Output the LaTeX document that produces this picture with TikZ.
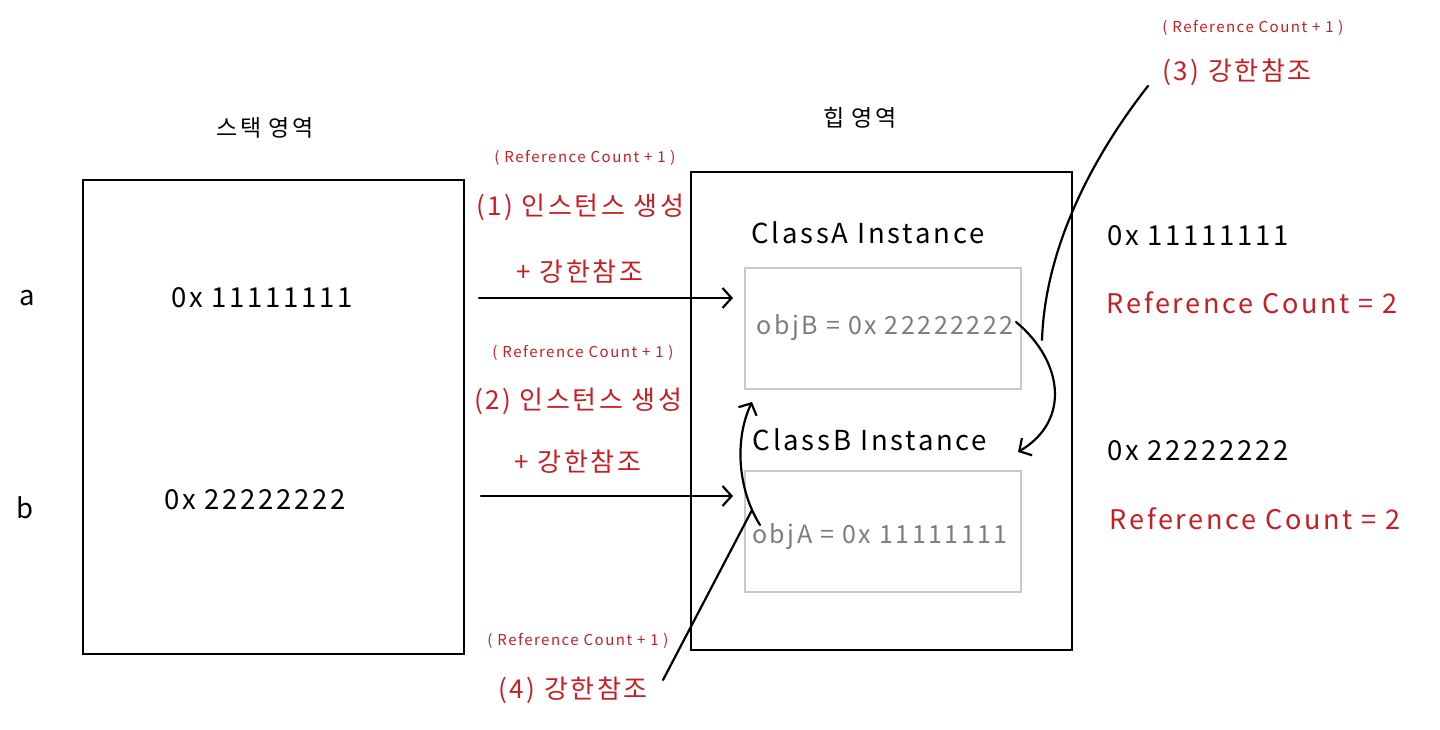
\documentclass[tikz,border=0pt]{standalone}
\usepackage{fontspec}
\setmainfont{Noto Sans CJK KR}[LetterSpace=10]
\usetikzlibrary{arrows.meta}
\definecolor{refred}{RGB}{200,30,35}
\definecolor{objgray}{RGB}{125,125,125}
\definecolor{boxgray}{RGB}{200,200,200}
\tikzset{
  bigbox/.style={draw=black, line width=2.2pt, minimum width=381pt, inner sep=0pt},
  objbox/.style={draw=boxgray, line width=2pt, minimum width=276pt, minimum height=121pt, inner sep=0pt},
  txt/.style={font=\fontsize{26}{30}\selectfont, inner sep=0pt, anchor=center},
  latin/.style={txt, font=\fontsize{27.5}{32}\selectfont},
  redtxt/.style={txt, text=refred},
  rctxt/.style={txt, text=refred, font=\fontsize{27}{32}\selectfont},
  small/.style={font=\fontsize{15}{18}\selectfont, text=refred, inner sep=0pt},
  graytxt/.style={txt, text=objgray, font=\fontsize{25}{30}\selectfont},
  conn/.style={line width=2.2pt, line cap=round},
  arr/.style={conn, -{Straight Barb[length=9pt,width=20pt,line width=2.2pt]}},
}
\begin{document}
\begin{tikzpicture}[x=1pt,y=-1pt]
\useasboundingbox (0,0) rectangle (1440,730);
\fill[white] (0,0) rectangle (1440,730);

% titles
\node[txt, font=\fontsize{23}{28}\selectfont] (stitle) at (265,128) {스택 영역};
\node[txt, font=\fontsize{23}{28}\selectfont] (htitle) at (860,118) {힙 영역};

% big boxes
\node[bigbox, minimum height=474pt] (stack) at (273.5,417) {};
\node[bigbox, minimum height=478pt] (heap) at (881.5,411) {};

% variable labels
\node[latin] (a) at (27,298) {a};
\node[latin] (b) at (25,508) {b};
\node[latin] (sa) at (262,298) {0x 11111111};
\node[latin] (sb) at (255,500) {0x 22222222};

% instances
\node[latin] (clsA) at (868,233) {ClassA Instance};
\node[objbox] (boxA) at (883,328.5) {};
\node[graytxt] (objB) at (885,328) {objB = 0x 22222222};
\node[latin] (clsB) at (870,440) {ClassB Instance};
\node[objbox] (boxB) at (883,531.5) {};
\node[graytxt] (objA) at (880,537) {objA = 0x 11111111};

% right side info
\node[latin] (addrA) at (1198,236) {0x 11111111};
\node[rctxt] (rcA) at (1252,303) {Reference Count = 2};
\node[latin] (addrB) at (1198,451) {0x 22222222};
\node[rctxt] (rcB) at (1255,519) {Reference Count = 2};

% step labels
\node[small] (r1) at (585,158) {( Reference Count + 1 )};
\node[redtxt] (l1) at (580,207) {(1) 인스턴스 생성};
\node[redtxt] (m1) at (580,272) {+ 강한참조};
\node[small] (r2) at (583,353) {( Reference Count + 1 )};
\node[redtxt] (l2) at (578,401) {(2) 인스턴스 생성};
\node[redtxt] (m2) at (578,462) {+ 강한참조};
\node[small] (r4) at (578,641) {( Reference Count + 1 )};
\node[redtxt] (l4) at (573,690) {(4) 강한참조};
\node[small] (r3) at (1253,28) {( Reference Count + 1 )};
\node[redtxt] (l3) at (1237,72) {(3) 강한참조};

% connector end points
\coordinate (s1) at (479,298);
\coordinate (e1) at (733,298);
\coordinate (s2) at (481,496);
\coordinate (e2) at (733,496);
\coordinate (bStart) at (1016,322);
\coordinate (bEnd) at (1018,452);
\coordinate (aStart) at (760,525);
\coordinate (aEnd) at (752,402);
\coordinate (l3s) at (1148,86);
\coordinate (l3e) at (1042,340);
\coordinate (l4s) at (663,680);
\coordinate (l4e) at (752,510);

% connectors
\draw[arr] (s1) -- (e1);
\draw[arr] (s2) -- (e2);
\draw[arr] (bStart) .. controls (1062,360) and (1072,420) .. (bEnd);
\draw[arr] (aStart) .. controls (738,490) and (734,440) .. (aEnd);
\draw[conn] (l3s) .. controls (1090,160) and (1045,250) .. (l3e);
\draw[conn] (l4s) -- (l4e);
\end{tikzpicture}
\end{document}
